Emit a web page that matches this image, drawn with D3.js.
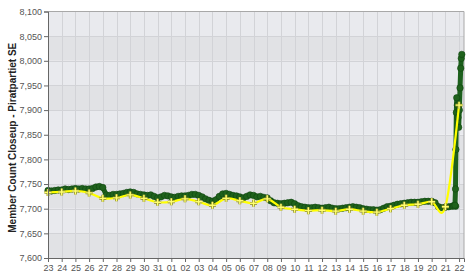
<!DOCTYPE html>
<html>
<head>
<meta charset="utf-8">
<script src="https://cdn.jsdelivr.net/npm/d3@7"></script>
<style>
  body { margin: 0; background: #fff; }
  text { font-family: "Liberation Sans", Arial, sans-serif; }
</style>
</head>
<body>
<div id="chart"></div>
<script>
// day labels, one per tick (23 of one month to 22 of the next)
const dayLabels = ['23','24','25','26','27','28','29','30','31','01','02','03','04','05','06','07',
  '08','09','10','11','12','13','14','15','16','17','18','19','20','21','22'];

// daily close (yellow line), one per day label
const dailyClose = [7733, 7734, 7736, 7732, 7721, 7722, 7728, 7721, 7713, 7714, 7720, 7714, 7707,
  7721, 7716, 7711, 7720, 7703, 7699, 7696, 7697, 7695, 7699, 7695, 7693, 7700, 7707, 7709, 7714,
  7704, 7910];

// intraday samples, every 6 hours from the first day
const intraday = [
  7737, 7736, 7737, 7738,
  7738, 7740, 7739, 7740,
  7741, 7740, 7741, 7740,
  7740, 7741, 7744, 7745,
  7743, 7728, 7727, 7729,
  7729, 7730, 7731, 7733,
  7734, 7733, 7730, 7729,
  7728, 7727, 7728, 7725,
  7722, 7724, 7727, 7726,
  7724, 7723, 7725, 7726,
  7726, 7727, 7729, 7729,
  7727, 7724, 7720, 7717,
  7715, 7718, 7725, 7730,
  7731, 7729, 7727, 7726,
  7724, 7722, 7725, 7728,
  7727, 7724, 7725, 7723,
  7722, 7716, 7712, 7711,
  7710, 7711, 7712, 7713,
  7710, 7706, 7704, 7703,
  7702, 7702, 7703, 7702,
  7701, 7702, 7703, 7701,
  7700, 7700, 7701, 7702,
  7703, 7704, 7703, 7702,
  7700, 7699, 7698, 7698,
  7697, 7698, 7701, 7704,
  7705, 7707, 7709, 7710,
  7711, 7712, 7713, 7713,
  7713, 7714, 7715, 7715,
  7715, 7712, 7704, 7702,
  7703, 7704, 7705, 7705
];
// the last hours, where members came in fast: [day offset, value]
const finalHours = [
  [29.6, 7706], [29.7, 7707], [29.74, 7740], [29.77, 7820], [29.8, 7895], [29.83, 7925],
  [29.87, 7910], [29.92, 7885], [29.97, 7865], [30.02, 7900], [30.07, 7945], [30.12, 7985],
  [30.16, 8005], [30.2, 8013]
];

const yTicks = [7600, 7650, 7700, 7750, 7800, 7850, 7900, 7950, 8000, 8050, 8100];

const width = 475;
const height = 278;
const margin = { top: 11.5, right: 11, bottom: 20, left: 48 };
const xEnd = 30.36;

const svg = d3.select('#chart')
  .append('svg')
  .attr('width', width)
  .attr('height', height);

const x = d3.scaleLinear()
  .domain([0, xEnd])
  .range([margin.left, width - margin.right]);

const y = d3.scaleLinear()
  .domain([7600, 8100])
  .range([height - margin.bottom, margin.top]);

// plot background with alternating bands
svg.append('g')
  .selectAll('rect')
  .data(d3.pairs(yTicks))
  .join('rect')
  .attr('x', x(0))
  .attr('y', d => y(d[1]))
  .attr('width', x(xEnd) - x(0))
  .attr('height', d => y(d[0]) - y(d[1]))
  .attr('fill', (d, i) => i % 2 === 0 ? '#e1e2e5' : '#e9eaee');

// grid
svg.append('g')
  .attr('stroke', '#d2d3d7')
  .selectAll('line')
  .data(d3.range(1, dayLabels.length))
  .join('line')
  .attr('x1', d => Math.round(x(d)) + 0.5)
  .attr('x2', d => Math.round(x(d)) + 0.5)
  .attr('y1', y(8100))
  .attr('y2', y(7600));

svg.append('g')
  .attr('stroke', '#d2d3d7')
  .selectAll('line')
  .data(yTicks.slice(1, -1))
  .join('line')
  .attr('x1', x(0))
  .attr('x2', x(xEnd))
  .attr('y1', d => Math.round(y(d)) + 0.5)
  .attr('y2', d => Math.round(y(d)) + 0.5);

// frame on top and right
svg.append('path')
  .attr('fill', 'none')
  .attr('stroke', '#a8a8a8')
  .attr('d', `M${x(0)},${y(8100)}H${x(xEnd)}V${y(7600)}`);

// intraday series
const intraPoints = intraday.map((v, i) => [i / 4, v]).concat(finalHours);

svg.append('path')
  .datum(intraPoints)
  .attr('fill', 'none')
  .attr('stroke', '#1d601d')
  .attr('stroke-width', 5)
  .attr('stroke-linejoin', 'round')
  .attr('d', d3.line().x(d => x(d[0])).y(d => y(d[1])));

svg.append('g')
  .selectAll('circle')
  .data(intraPoints)
  .join('circle')
  .attr('cx', d => x(d[0]))
  .attr('cy', d => y(d[1]))
  .attr('r', 3.2)
  .attr('fill', '#1f621c')
  .attr('stroke', '#0f440f')
  .attr('stroke-width', 0.6);

// daily close line
svg.append('path')
  .datum(dailyClose)
  .attr('fill', 'none')
  .attr('stroke', '#ffff00')
  .attr('stroke-width', 2.2)
  .attr('d', d3.line().x((d, i) => x(i)).y(d => y(d)).curve(d3.curveCardinal));

// plus markers: dark outline under a light yellow cross
const plusPath = 'M-3.5,0H3.5M0,-3.5V3.5';
[['#8a8a20', 2.8], ['#ffff70', 1.4]].forEach(([color, w]) => {
  svg.append('g')
    .selectAll('path')
    .data(dailyClose)
    .join('path')
    .attr('transform', (d, i) => `translate(${x(i)},${y(d)})`)
    .attr('d', plusPath)
    .attr('fill', 'none')
    .attr('stroke', color)
    .attr('stroke-width', w);
});

// axes
const yAxis = svg.append('g')
  .attr('transform', `translate(${x(0)},0)`)
  .call(d3.axisLeft(y).tickValues(yTicks).tickFormat(d3.format(',')).tickSize(4).tickPadding(2));

const xAxis = svg.append('g')
  .attr('transform', `translate(0,${y(7600)})`)
  .call(d3.axisBottom(x).tickValues(d3.range(dayLabels.length))
    .tickFormat(i => dayLabels[i]).tickSize(4).tickPadding(3));

[yAxis, xAxis].forEach(g => {
  g.select('.domain').attr('stroke', '#666');
  g.selectAll('.tick line').attr('stroke', '#666');
  g.selectAll('.tick text')
    .attr('fill', '#555')
    .attr('font-size', 9)
    .attr('font-family', '"Liberation Sans", Arial, sans-serif');
});

svg.append('text')
  .attr('transform', `translate(15.5,${(y(7600) + y(8100)) / 2 + 3}) rotate(-90)`)
  .attr('text-anchor', 'middle')
  .attr('font-size', 10)
  .attr('font-weight', 'bold')
  .attr('fill', '#222')
  .text('Member Count Closeup - Piratpartiet SE');
</script>
</body>
</html>
